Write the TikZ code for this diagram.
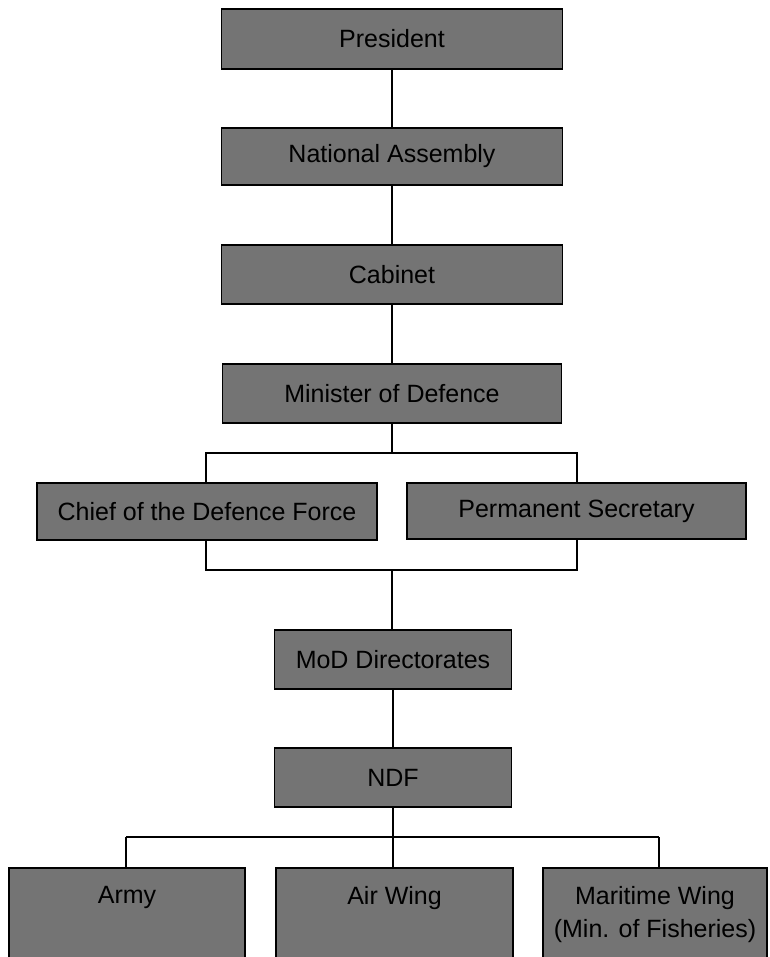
\documentclass[tikz,border=0pt]{standalone}
\usepackage{fontspec}
\setmainfont{Liberation Sans}
\usetikzlibrary{backgrounds}
\definecolor{boxgray}{RGB}{116,116,116}
\begin{document}
\begin{tikzpicture}[x=1pt,y=-1pt,
  orgbox/.style={draw=black, line width=1.6pt, fill=boxgray, inner sep=0pt,
    font=\fontsize{25}{33}\selectfont, text=black},
  conn/.style={draw=black, line width=1.5pt},
  lbl/.style={font=\fontsize{25}{33}\selectfont, text=black, align=center, inner sep=0pt}]
\useasboundingbox (0,0) rectangle (769,957);
% top chain
\node[orgbox, minimum width=341, minimum height=60] (pres) at (392,39) {President};
\node[orgbox, minimum width=341, minimum height=57] (na) at (392,156.5) {National Assembly};
\node[orgbox, minimum width=341, minimum height=59] (cab) at (392,274.5) {Cabinet};
\node[orgbox, minimum width=339, minimum height=59] (min) at (392,393.5) {Minister of Defence};
\node[orgbox, minimum width=340, minimum height=57] (cdf) at (207,511.5) {Chief of the Defence Force};
\node[orgbox, minimum width=339, minimum height=56] (ps) at (576.5,511) {Permanent Secretary};
\node[orgbox, minimum width=237, minimum height=59] (mod) at (393,659.5) {MoD Directorates};
\node[orgbox, minimum width=237, minimum height=59] (ndf) at (393,777.5) {NDF};
% bottom boxes (run off the page)
\node[orgbox, anchor=north, minimum width=236, minimum height=110] (army) at (127,867) {};
\node[orgbox, anchor=north, minimum width=237, minimum height=110] (air) at (394.5,867) {};
\node[orgbox, anchor=north, minimum width=224, minimum height=110] (mar) at (655,867) {};
\node[lbl, anchor=north] (armyt) at ([yshift=-19]army.north) {Army};
\node[lbl, anchor=north] (airt) at ([yshift=-19]air.north) {Air Wing};
\node[lbl, anchor=north] (mart) at ([yshift=-19]mar.north) {Maritime Wing\\(Min. of Fisheries)};
% bracket and bus coordinates
\coordinate (btl) at (206,453);
\coordinate (btr) at (577,453);
\coordinate (bbl) at (206,570);
\coordinate (bbr) at (577,570);
\coordinate (btm) at (392,453);
\coordinate (bbm) at (392,570);
\coordinate (busl) at (126,837);
\coordinate (busr) at (659,837);
\coordinate (busm) at (393,837);
\begin{scope}[on background layer]
\draw[conn] (pres.south) -- (na.north);
\draw[conn] (na.south) -- (cab.north);
\draw[conn] (cab.south) -- (min.north);
\draw[conn] (min.south) -- (btm);
\draw[conn] (btl) -- (btr) -- (bbr) -- (bbl) -- cycle;
\draw[conn] (bbm) -- (bbm |- mod.north);
\draw[conn] (mod.south) -- (ndf.north);
\draw[conn] (ndf.south) -- (busm);
\draw[conn] (busl) -- (busr);
\draw[conn] (busl) -- (busl |- army.north);
\draw[conn] (busm) -- (busm |- air.north);
\draw[conn] (busr) -- (busr |- mar.north);
\end{scope}
\end{tikzpicture}
\end{document}
